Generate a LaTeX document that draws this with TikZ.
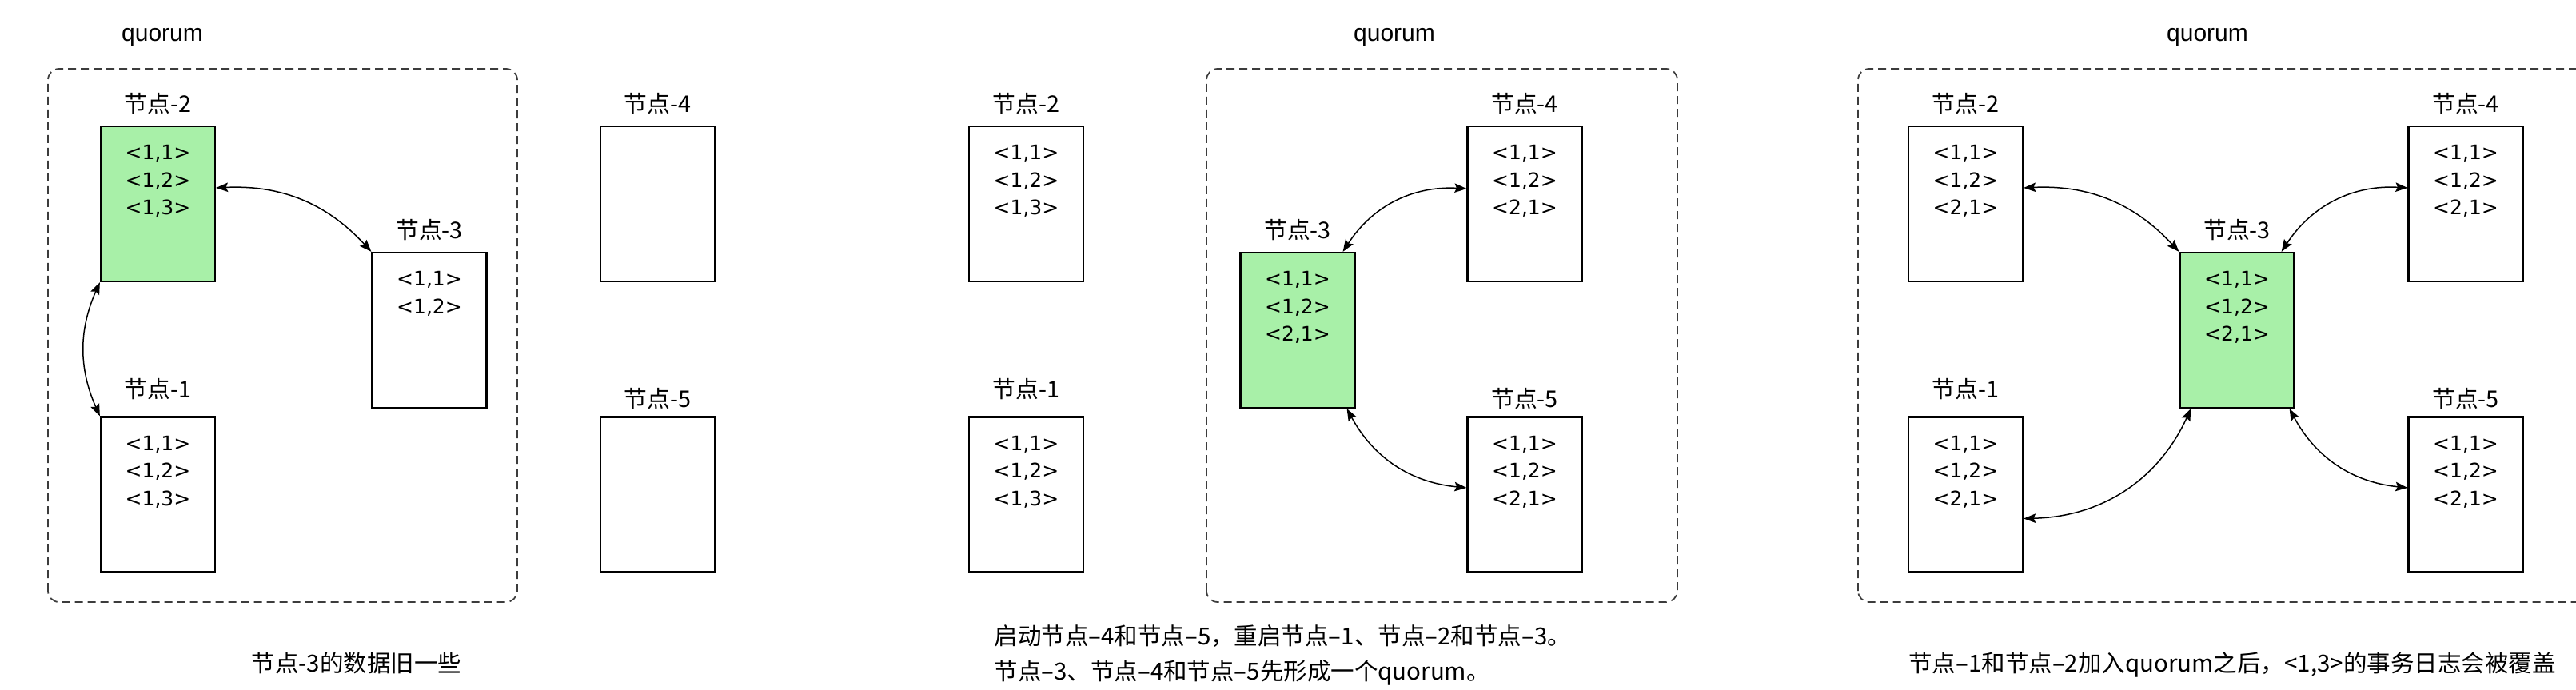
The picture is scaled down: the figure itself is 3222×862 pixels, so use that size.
\documentclass[tikz,border=0pt]{standalone}
\usepackage{fontspec}
\setmainfont{Liberation Sans}
\newfontfamily\cjk{Noto Sans CJK SC}
\newfontfamily\logfont{DejaVu Sans}
\usepackage{tikz}
\usetikzlibrary{arrows.meta, positioning}
\definecolor{leadergreen}{RGB}{168,240,168}
\definecolor{quorumgray}{RGB}{60,60,60}
\newcommand{\logs}[1]{\parbox[c][77.6pt][t]{57.2pt}{\centering\logfont\fontsize{10pt}{13.7pt}\selectfont\rule{0pt}{16.8pt}#1}}
\tikzset{
  server/.style={draw, line width=0.9pt, inner sep=0pt, fill=white},
  leader/.style={server, fill=leadergreen},
  title/.style={font=\cjk\fontsize{11.5pt}{12pt}\selectfont, inner sep=0pt},
  qlabel/.style={font=\fontsize{12pt}{14pt}\selectfont, anchor=base, inner sep=0pt},
  quorumbox/.style={draw=quorumgray, line width=0.7pt, dash pattern=on 4pt off 2.4pt, rounded corners=5.6pt},
  sync/.style={<->, >={Stealth[length=6pt,width=4.6pt,inset=1pt]}, line width=0.6pt},
  caption/.style={font=\cjk\fontsize{11.8pt}{17.6pt}\selectfont, inner sep=0pt}
}

\begin{document}
\begin{tikzpicture}[x=0.4pt, y=0.4pt]
        \useasboundingbox (0,0) rectangle (3222,862);
        % Panel 1: node-3 lags behind
        \draw [quorumbox] (60,109) rectangle (647,776);
        \node [qlabel] (q1) at (203,810) {quorum};
        \node [leader] (p1n2) at (197.5,607) {\logs{<1,1>\\<1,2>\\<1,3>}};
        \node [server] (p1n1) at (197.5,243.5) {\logs{<1,1>\\<1,2>\\<1,3>}};
        \node [server] (p1n3) at (537,449) {\logs{<1,1>\\<1,2>}};
        \node [server] (p1n4) at (822.5,607) {\logs{}};
        \node [server] (p1n5) at (822.5,243.5) {\logs{}};
        \node [title, above=5.6pt of p1n2] (p1t2) {节点-2};
        \node [title, above=8pt of p1n1] (p1t1) {节点-1};
        \node [title, above=5.6pt of p1n3] (p1t3) {节点-3};
        \node [title, above=5.6pt of p1n4] (p1t4) {节点-4};
        \node [title, above=3.2pt of p1n5] (p1t5) {节点-5};
        \draw [sync] ([yshift=8pt]p1n2.east) to[bend left=25] (p1n3.north west);
        \draw [sync] (p1n2.south west) to[bend right=24] (p1n1.north west);
        \node [caption] (c1) at (446,33) {节点-3的数据旧一些};
        % Panel 2: nodes 3, 4 and 5 form a quorum
        \draw [quorumbox] (1509,109) rectangle (2098,776);
        \node [qlabel] (q2) at (1744,810) {quorum};
        \node [server] (p2n2) at (1283.5,607) {\logs{<1,1>\\<1,2>\\<1,3>}};
        \node [server] (p2n1) at (1283.5,243.5) {\logs{<1,1>\\<1,2>\\<1,3>}};
        \node [leader] (p2n3) at (1623,449) {\logs{<1,1>\\<1,2>\\<2,1>}};
        \node [server] (p2n4) at (1907,607) {\logs{<1,1>\\<1,2>\\<2,1>}};
        \node [server] (p2n5) at (1907,243.5) {\logs{<1,1>\\<1,2>\\<2,1>}};
        \node [title, above=5.6pt of p2n2] (p2t2) {节点-2};
        \node [title, above=8pt of p2n1] (p2t1) {节点-1};
        \node [title, above=5.6pt of p2n3] (p2t3) {节点-3};
        \node [title, above=5.6pt of p2n4] (p2t4) {节点-4};
        \node [title, above=3.2pt of p2n5] (p2t5) {节点-5};
        \draw [sync] ([xshift=-6.4pt]p2n3.north east) to[bend left=30] ([yshift=7.6pt]p2n4.west);
        \draw [sync] ([xshift=-4.4pt]p2n3.south east) to[bend right=28] ([yshift=3.4pt]p2n5.west);
        \node [caption, anchor=north west, align=left] (c2) at (1243,81)
            {启动节点–4和节点–5，重启节点–1、节点–2和节点–3。\\节点–3、节点–4和节点–5先形成一个quorum。};
        % Panel 3: nodes 1 and 2 join the quorum
        \draw [quorumbox] (2324,109) rectangle (3260,776);
        \node [qlabel] (q3) at (2761,810) {quorum};
        \node [server] (p3n2) at (2458.5,607) {\logs{<1,1>\\<1,2>\\<2,1>}};
        \node [server] (p3n1) at (2458.5,243.5) {\logs{<1,1>\\<1,2>\\<2,1>}};
        \node [leader] (p3n3) at (2798,449) {\logs{<1,1>\\<1,2>\\<2,1>}};
        \node [server] (p3n4) at (3084,607) {\logs{<1,1>\\<1,2>\\<2,1>}};
        \node [server] (p3n5) at (3084,243.5) {\logs{<1,1>\\<1,2>\\<2,1>}};
        \node [title, above=5.6pt of p3n2] (p3t2) {节点-2};
        \node [title, above=8pt of p3n1] (p3t1) {节点-1};
        \node [title, above=5.6pt of p3n3] (p3t3) {节点-3};
        \node [title, above=5.6pt of p3n4] (p3t4) {节点-4};
        \node [title, above=3.2pt of p3n5] (p3t5) {节点-5};
        \draw [sync] ([yshift=8pt]p3n2.east) to[bend left=25] (p3n3.north west);
        \draw [sync] ([xshift=-6.8pt]p3n3.north east) to[bend left=30] ([yshift=8pt]p3n4.west);
        \draw [sync] ([yshift=-12pt]p3n1.east) to[bend right=32] ([xshift=6pt]p3n3.south west);
        \draw [sync] ([xshift=-2.8pt]p3n3.south east) to[bend right=28] ([yshift=3.4pt]p3n5.west);
        \node [caption] (c3) at (2792,31) {节点–1和节点–2加入quorum之后，<1,3>的事务日志会被覆盖};
\end{tikzpicture}
\end{document}
